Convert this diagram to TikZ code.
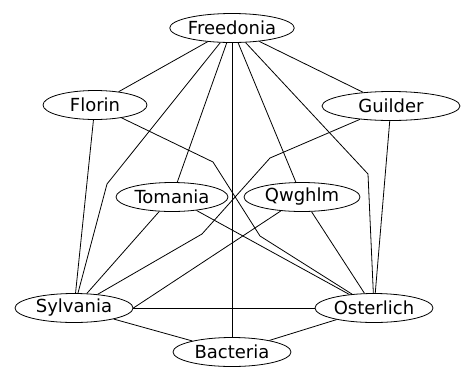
\documentclass[tikz,border=0pt]{standalone}
\usepackage{fontspec}
\setmainfont{DejaVu Sans}
\usetikzlibrary{shapes.geometric}
\begin{document}
\begin{tikzpicture}[x=1pt,y=-1pt,
  country/.style={draw, ellipse, line width=0.8pt, inner sep=0pt,
    minimum height=29pt, font=\fontsize{18}{18}\selectfont},
  link/.style={line width=0.8pt}]
\useasboundingbox (0,0) rectangle (466,368);
\node[country, minimum width=118pt] (fre) at (232,28) {Freedonia};
\node[country, minimum width=104pt] (flo) at (95,105) {Florin};
\node[country, minimum width=138pt] (gui) at (391,106) {Guilder};
\node[country, minimum width=112pt] (tom) at (172,197) {Tomania};
\node[country, minimum width=116pt] (qwg) at (302,197) {Qwghlm};
\node[country, minimum width=118pt] (syl) at (74,308) {Sylvania};
\node[country, minimum width=118pt] (ost) at (374,308) {Osterlich};
\node[country, minimum width=118pt] (bac) at (232,352) {Bacteria};
\coordinate (fs) at (107,184);
\coordinate (fo) at (368,174);
\coordinate (fo2) at (213,162);
\coordinate (fo3) at (260,236);
\coordinate (gs) at (270,158);
\coordinate (gs2) at (202,234);
\draw[link] (fre) -- (flo);
\draw[link] (fre) -- (gui);
\draw[link] (fre) -- (tom);
\draw[link] (fre) -- (qwg);
\draw[link] (fre) -- (bac);
\draw[link] (fre) -- (fs) -- (syl);
\draw[link] (fre) -- (fo) -- (ost);
\draw[link] (flo) -- (syl);
\draw[link] (flo) -- (fo2) -- (fo3) -- (ost);
\draw[link] (gui) -- (ost);
\draw[link] (gui) -- (gs) -- (gs2) -- (syl);
\draw[link] (tom) -- (syl);
\draw[link] (tom) -- (ost);
\draw[link] (qwg) -- (syl.east);
\draw[link] (qwg) -- (ost);
\draw[link] (syl) -- (ost);
\draw[link] (syl) -- (bac);
\draw[link] (ost) -- (bac);
\end{tikzpicture}
\end{document}
